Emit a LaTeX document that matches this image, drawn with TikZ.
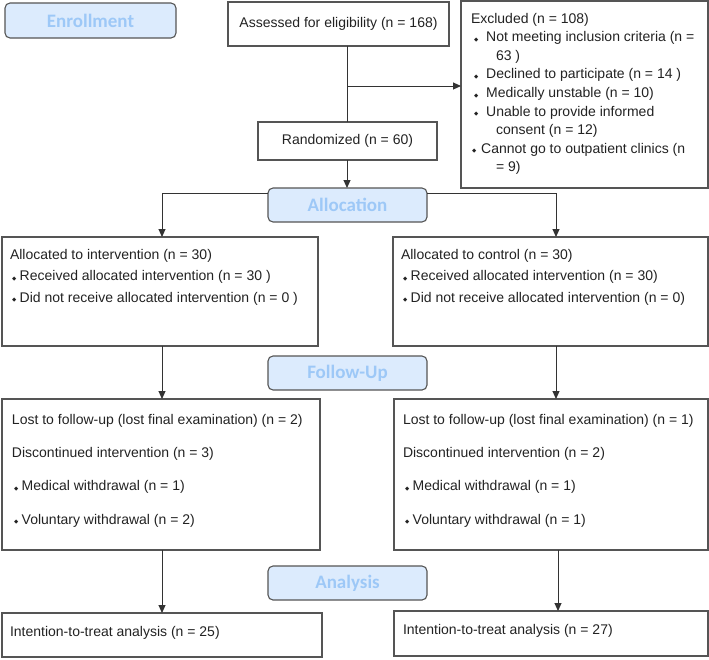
\documentclass[tikz,border=0pt]{standalone}
\usepackage{fontspec}
\setmainfont{Liberation Sans}
\newfontfamily\hdfont{Carlito}
\newfontfamily\symfont{DejaVu Sans}
\usetikzlibrary{arrows.meta,positioning,shapes}

\definecolor{hdfill}{HTML}{DCEBFD}
\definecolor{hdtext}{HTML}{9DC8F7}
\definecolor{edgegray}{HTML}{555555}
\definecolor{ink}{HTML}{222222}

% small diamond bullet: space before, space after
\newcommand{\bul}[2]{\hspace*{#1}{\symfont\fontsize{5.5}{5.5}\selectfont\raisebox{0.5pt}{◆}}\hspace{#2}}
% top aligned box text: height, width, text
\newcommand{\boxbody}[3]{\parbox[t][#1][t]{#2}{#3}}

\begin{document}
\begin{tikzpicture}[x=1pt,y=1pt,>={Triangle[length=8pt,width=7pt]},
    font=\fontsize{14}{16}\selectfont]
    \tikzstyle{stage}=[rectangle,rounded corners=5pt,draw=edgegray,line width=1.1pt,
    fill=hdfill,text=hdtext,font=\hdfont\bfseries\fontsize{19}{19}\selectfont,
    minimum width=159pt,minimum height=34pt,inner sep=0pt,outer sep=0pt]
    \tikzstyle{count}=[rectangle,draw=edgegray,line width=1.1pt,text=ink,
    inner sep=0pt,outer sep=0pt]
    \tikzstyle{panel}=[count,anchor=north west,align=left]
    \tikzstyle{link}=[draw=black!80,line width=1pt]

    \useasboundingbox (0,0) rectangle (709,-659);

    \node [stage,anchor=north west,minimum width=171pt,minimum height=35pt]
        (enroll) at (5,-3) {Enrollment};
    \node [count,minimum width=221pt,minimum height=44pt,anchor=north west]
        (assess) at (228,-2) {Assessed for eligibility (n = 168)};
    \node [count,minimum width=179pt,minimum height=38pt]
        (rand) [below=76pt of assess.south,xshift=9pt,anchor=north] {Randomized (n = 60)};
    \node [panel,inner xsep=10pt,inner ysep=12pt,font=\fontsize{14}{18.6}\selectfont]
        (excl) at (461,-1) {\boxbody{163pt}{227pt}{Excluded (n = 108)\\
        \bul{3pt}{8pt}Not meeting inclusion criteria (n =\\
        \hspace*{25pt}63 )\\
        \bul{3pt}{8pt}Declined to participate (n = 14 )\\
        \bul{3pt}{8pt}Medically unstable (n = 10)\\
        \bul{3pt}{8pt}Unable to provide informed\\
        \hspace*{25pt}consent (n = 12)\\
        \bul{1pt}{5pt}Cannot go to outpatient clinics (n\\
        \hspace*{25pt}= 9)}};

    \node [stage] (alloc) [below=28pt of rand] {Allocation};
    \node [panel,inner xsep=8pt,inner ysep=12pt,font=\fontsize{14}{21.5}\selectfont]
        (intL) at (2,-237) {\boxbody{85pt}{300pt}{Allocated to intervention (n = 30)\\
        \bul{2pt}{3.5pt}Received allocated intervention (n = 30 )\\
        \bul{2pt}{3.5pt}Did not receive allocated intervention (n = 0 )}};
    \node [panel,inner xsep=8pt,inner ysep=12pt,font=\fontsize{14}{21.5}\selectfont]
        (ctlR) at (393,-237) {\boxbody{85pt}{299pt}{Allocated to control (n = 30)\\
        \bul{2pt}{3.5pt}Received allocated intervention (n = 30)\\
        \bul{2pt}{3.5pt}Did not receive allocated intervention (n = 0)}};

    \node [stage] (follow) [below=134pt of alloc] {Follow-Up};
    \node [panel,inner xsep=10pt,inner ysep=15pt,font=\fontsize{14}{33.3}\selectfont]
        (lostL) at (2,-399) {\boxbody{121pt}{298pt}{Lost to follow-up (lost final examination) (n = 2)\\
        Discontinued intervention (n = 3)\\
        \bul{2pt}{3.5pt}Medical withdrawal (n = 1)\\
        \bul{2pt}{3.5pt}Voluntary withdrawal (n = 2)}};
    \node [panel,inner xsep=9pt,inner ysep=15pt,font=\fontsize{14}{33.3}\selectfont]
        (lostR) at (394,-399) {\boxbody{121pt}{296pt}{Lost to follow-up (lost final examination) (n = 1)\\
        Discontinued intervention (n = 2)\\
        \bul{2pt}{3.5pt}Medical withdrawal (n = 1)\\
        \bul{2pt}{3.5pt}Voluntary withdrawal (n = 1)}};

    \node [stage] (analysis) [below=176pt of follow] {Analysis};
    \node [panel,inner xsep=8pt,inner ysep=13pt]
        (ittL) at (2,-613) {\boxbody{18pt}{304pt}{Intention-to-treat analysis (n = 25)}};
    \node [panel,inner xsep=9pt,inner ysep=13pt]
        (ittR) at (394,-611) {\boxbody{19pt}{296pt}{Intention-to-treat analysis (n = 27)}};

    \coordinate (split) at (347,-86);
    \coordinate (colL) at (162,-193);
    \coordinate (colR) at (556,-193);

    \path [link] (assess.south -| split) -- (rand.north -| split);
    \path [link,->] (split) -- (excl.west |- split);
    \path [link,->] (rand.south -| split) -- (alloc.north -| split);
    \path [link,->] (alloc.west |- colL) -- (colL) -- (intL.north -| colL);
    \path [link,->] (alloc.east |- colR) -- (colR) -- (ctlR.north -| colR);
    \path [link,->] (intL.south -| colL) -- (lostL.north -| colL);
    \path [link,->] (ctlR.south -| colR) -- (lostR.north -| colR);
    \path [link,->] (lostL.south -| colL) -- (ittL.north -| colL);
    \path [link,->] ([xshift=2pt]lostR.south -| colR) -- ([xshift=2pt]ittR.north -| colR);
\end{tikzpicture}
\end{document}
